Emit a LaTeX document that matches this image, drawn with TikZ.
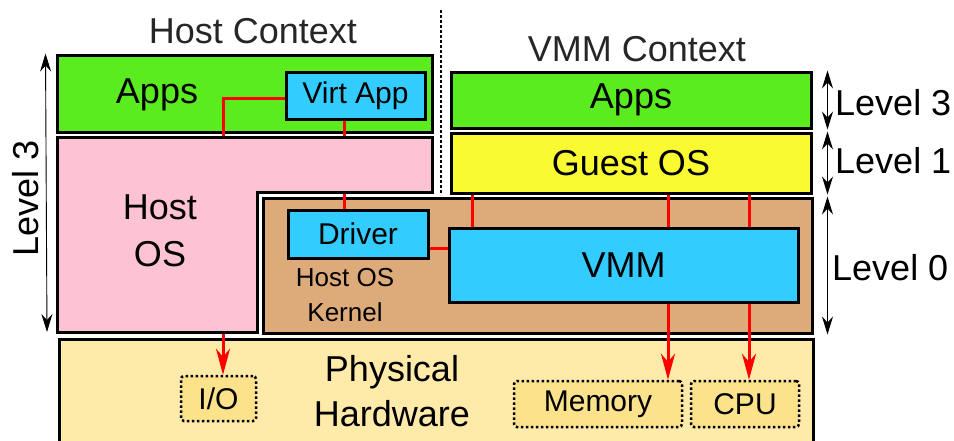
\documentclass[tikz,border=0pt]{standalone}
\usepackage{fontspec}
\setmainfont{Liberation Sans}
\usepackage{tikz}
\usetikzlibrary{calc, positioning, arrows.meta, backgrounds}
\definecolor{appgreen}{RGB}{90,236,30}
\definecolor{virtblue}{RGB}{51,204,255}
\definecolor{hostpink}{RGB}{253,194,212}
\definecolor{kernbrown}{RGB}{221,170,122}
\definecolor{guestyellow}{RGB}{250,250,50}
\definecolor{hwcream}{RGB}{254,235,170}
\definecolor{devgold}{RGB}{252,226,138}
\pgfdeclarelayer{wires}
\pgfsetlayers{background,wires,main}
\tikzstyle{blk}=[draw, line width=3pt, inner sep=0pt, font=\fontsize{36}{44}\selectfont]
\tikzstyle{dev}=[draw, line width=2.5pt, dash pattern=on 2.5pt off 2.5pt, rounded corners=3pt, fill=devgold, inner sep=0pt, font=\fontsize{30}{36}\selectfont]
\tikzstyle{txt}=[inner sep=0pt, font=\fontsize{36}{44}\selectfont]
\tikzstyle{ctx}=[inner sep=0pt, anchor=base, text=black!85, font=\fontsize{36}{44}\selectfont]
\tikzstyle{wire}=[draw=red, line width=3pt]
\tikzstyle{feed}=[wire, -{Stealth[length=26pt,width=14pt,inset=8pt]}]
\tikzstyle{lvl}=[line width=0.9pt, {Stealth[length=18pt,width=11pt,inset=6pt]}-{Stealth[length=18pt,width=11pt,inset=6pt]}]

\begin{document}
\begin{tikzpicture}[x=1pt, y=-1pt]
\useasboundingbox (0,0) rectangle (954,440);

\node[ctx] (hostctx) at (253,43) {Host Context};
\node[ctx] (vmmctx) at (637,61) {VMM Context};
\draw[line width=2.5pt, dash pattern=on 2.5pt off 2.5pt] (441,10) -- (441,195);

\begin{scope}[on background layer]
\node[blk, fill=appgreen, minimum width=375, minimum height=77] (hostapps) at (244.5,93.5) {};
\node[blk, fill=appgreen, minimum width=360, minimum height=56] (guestapps) at (631,100) {Apps};
\node[blk, fill=guestyellow, minimum width=360, minimum height=60] (guestos) at (631,163) {Guest OS};
\node[blk, fill=kernbrown, minimum width=549, minimum height=135] (kernel) at (537.5,265.5) {};
\node[blk, fill=hwcream, minimum width=754, minimum height=112] (hw) at (436,395) {};
\end{scope}

% host os is not a rectangle
\coordinate (hostbot) at (57,332);
\draw[line width=3pt, fill=hostpink] (57,137) -- (432,137) -- (432,192) -- (257,192) -- (257,332) -- (hostbot) -- cycle;

\node[txt, anchor=base] (appstxt) at (157,103) {Apps};
\node[txt, align=center, font=\fontsize{36}{47}\selectfont] (hostostxt) at (160,231) {Host\\OS};
\node[txt, align=center, font=\fontsize{26}{35}\selectfont] (kerneltxt) at (345,295) {Host OS\\Kernel};
\node[txt, align=center, font=\fontsize{36}{45}\selectfont] (hwtxt) at (392,391) {Physical\\Hardware};

\node[blk, fill=virtblue, minimum width=139, minimum height=47, font=\fontsize{30}{36}\selectfont] (virtapp) at (355.5,95.5) {Virt App};
\node[blk, fill=virtblue, minimum width=140, minimum height=48, font=\fontsize{30}{36}\selectfont] (driver) at (358,234) {Driver};
\node[blk, fill=virtblue, minimum width=349, minimum height=74] (vmm) at (623.5,265) {VMM};
\node[dev, minimum width=75, minimum height=45] (io) at (218.5,398.5) {I/O};
\node[dev, minimum width=168, minimum height=46] (mem) at (598,404) {Memory};
\node[dev, minimum width=108, minimum height=46] (cpu) at (745,404) {CPU};

\coordinate (ioin) at ([xshift=4.5pt]io.north);
\coordinate (drvin) at ([xshift=-14pt]driver.north);
\coordinate (vmmin) at ([xshift=25pt]vmm.north west);
\coordinate (memin) at ([xshift=70pt]mem.north);
\coordinate (cpuin) at ([xshift=4pt]cpu.north);
\begin{pgfonlayer}{wires}
\draw[feed] ([yshift=-2.5pt]virtapp.west) -| (ioin);
\draw[wire] (virtapp.south -| drvin) -- (drvin);
\draw[wire] ([yshift=-14pt]driver.east) -- ([yshift=-14pt]driver.east -| vmm.west);
\draw[wire] (guestos.south -| vmmin) -- (vmmin);
\draw[feed] (guestos.south -| memin) -- (memin);
\draw[feed] (guestos.south -| cpuin) -- (cpuin);
\end{pgfonlayer}

\draw[lvl] ([xshift=-10pt]hostapps.north west) -- ([xshift=-10pt]hostbot);
\node[txt, rotate=90, anchor=base] (lvlhost) at (38,198) {Level 3};
\draw[lvl] ([xshift=15pt]guestapps.north east) -- ([xshift=15pt]guestapps.south east);
\draw[lvl] ([xshift=15pt]guestos.north east) -- ([xshift=15pt]guestos.south east);
\draw[lvl] ([xshift=14pt]kernel.north east) -- ([xshift=14pt]kernel.south east);
\node[txt, anchor=base west] (lvlthree) at (835,115) {Level 3};
\node[txt, anchor=base west] (lvlone) at (835,173) {Level 1};
\node[txt, anchor=base west] (lvlzero) at (832,280) {Level 0};
\end{tikzpicture}
\end{document}
